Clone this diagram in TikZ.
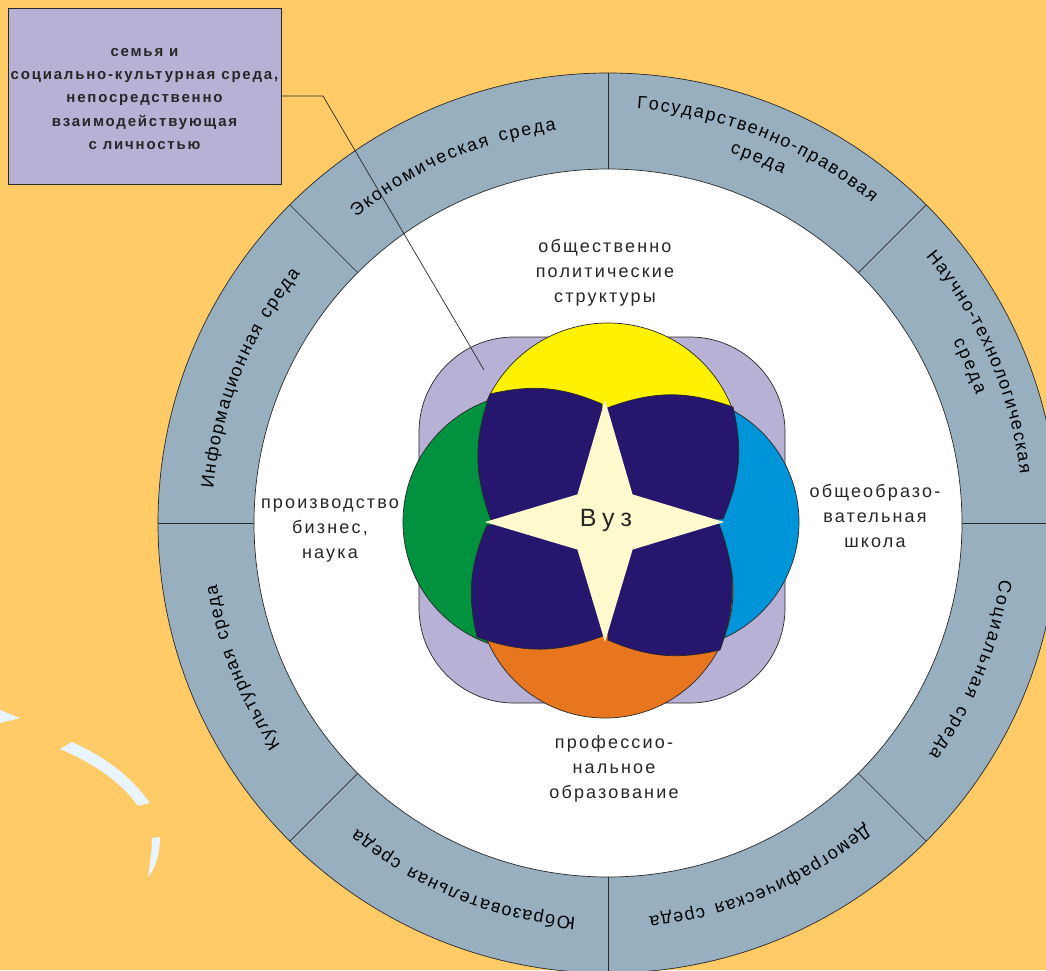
\documentclass[tikz,border=0pt]{standalone}
\usepackage{fontspec}
\setmainfont{Liberation Sans}
\newfontfamily\lblfont[LetterSpace=12]{Liberation Sans}
\newfontfamily\vuzfont[LetterSpace=24]{Liberation Sans}
\usetikzlibrary{decorations.text}
\definecolor{bgOrange}{RGB}{255,203,102}
\definecolor{ringBlue}{RGB}{152,175,192}
\definecolor{boxLilac}{RGB}{184,177,214}
\definecolor{polYellow}{RGB}{255,242,0}
\definecolor{prodGreen}{RGB}{0,146,63}
\definecolor{schoolBlue}{RGB}{0,148,216}
\definecolor{profOrange}{RGB}{232,118,30}
\definecolor{petalNavy}{RGB}{38,22,110}
\definecolor{starCream}{RGB}{255,250,205}
\definecolor{streakBlue}{RGB}{232,244,255}
\definecolor{lineGray}{RGB}{40,40,40}
\newcommand\ringfont{\lblfont\fontsize{18}{20}\selectfont}

\begin{document}
\begin{tikzpicture}[x=1pt,y=1pt,
    thinline/.style={draw=lineGray,line width=0.7pt},
    blob/.style={fill=#1,draw=lineGray,line width=0.7pt},
    lbl/.style={font=\lblfont\fontsize{18}{25}\selectfont,align=center,text=black!85},
    ringtext/.style={decorate,decoration={text along path,text align=fit to path,text={|\ringfont|#1}}},
    famBox/.style={draw=lineGray,fill=boxLilac,line width=0.8pt,minimum width=273pt,minimum height=176pt,
        inner sep=0pt,align=center,font=\lblfont\bfseries\fontsize{15}{23.3}\selectfont,text=black!85}]
    \useasboundingbox (-608,-447) rectangle (438,523);
    \clip (-608,-447) rectangle (438,523);
    \fill[bgOrange] (-608,-447) rectangle (438,523);
    % light streaks on the left
    \fill[streakBlue] (-608,-187) -- (-588,-195) -- (-608,-200) -- cycle;
    \fill[streakBlue] (-536,-219) .. controls (-505,-233) and (-478,-252) .. (-458,-280) -- (-470,-283)
        .. controls (-488,-258) and (-515,-240) .. (-548,-226) -- cycle;
    \fill[streakBlue] (-456,-315) -- (-448,-314) .. controls (-448,-330) and (-452,-345) .. (-460,-354)
        .. controls (-458,-340) and (-456,-328) .. cycle;
    % outer ring
    \fill[ringBlue] (0,0) circle (450);
    \fill[white] (0,0) circle (354);
    \draw[thinline] (0,0) circle (450) (0,0) circle (354);
    \foreach \a in {0,45,...,315}
        \draw[thinline] (\a:354) -- (\a:450);
    \path[ringtext=Экономическая среда] (129.5:396) arc[start angle=129.5,end angle=97.5,radius=396];
    \path[ringtext=Государственно-правовая] (86:415) arc[start angle=86,end angle=50.5,radius=415];
    \path[ringtext=среда] (71.8:390) arc[start angle=71.8,end angle=63.4,radius=390];
    \path[ringtext=Научно-технологическая] (40:415) arc[start angle=40,end angle=6.8,radius=415];
    \path[ringtext=среда] (27.8:390) arc[start angle=27.8,end angle=19.2,radius=390];
    \path[ringtext=Социальная среда] (-8.2:396) arc[start angle=-8.2,end angle=-35.8,radius=396];
    \path[ringtext=Демографическая среда] (-49.5:396) arc[start angle=-49.5,end angle=-84,radius=396];
    \path[ringtext=Юбразовательная среда] (-94.7:396) arc[start angle=-94.7,end angle=-129.3,radius=396];
    \path[ringtext=Культурная среда] (214.2:396) arc[start angle=214.2,end angle=189,radius=396];
    \path[ringtext=Информационная среда] (175:396) arc[start angle=175,end angle=141,radius=396];
    % flower
    \begin{scope}[shift={(-3,1)}]
        \draw[blob=boxLilac,rounded corners=95] (-186,-181) rectangle (180,185);
        \draw[blob=polYellow] (3,66) circle (133);
        \draw[blob=prodGreen] (-73,0) circle (129);
        \draw[blob=schoolBlue] (67,0) circle (127);
        \draw[blob=profOrange] (0,-68) circle (128);
        \foreach \a in {0,90,180,270}
            \draw[blob=petalNavy,rotate=\a] (2,114) to[bend left=20] (128,115) to[bend left=18] (118,3) -- (0,0) -- cycle;
        \fill[starCream] (90:122) -- (45:39) -- (0:119) -- (-45:39) -- (-90:120) -- (-135:39) -- (180:120) -- (135:39) -- cycle;
    \end{scope}
    \node[font=\vuzfont\fontsize{25}{25}\selectfont,text=black!85] (vuz) at (-2,3) {Вуз};
    \node[lbl] (polit) at (-3,250) {общественно\\политические\\структуры};
    \node[lbl] (prod) at (-278,-8) {производство\\бизнес,\\наука};
    \node[lbl] (school) at (267,7) {общеобразо-\\вательная\\школа};
    \node[lbl] (prof) at (6,-246) {профессио-\\нальное\\образование};
    % callout
    \node[famBox] (family) at (-463.5,427) {\rule{0pt}{14pt}семья и\\социально-культурная среда,\\непосредственно\\взаимодействующая\\с личностью};
    \coordinate (famBend) at (-285,427);
    \coordinate (famTip) at (-124,153);
    \draw[thinline] (family.east) -- (famBend) -- (famTip);
\end{tikzpicture}
\end{document}
